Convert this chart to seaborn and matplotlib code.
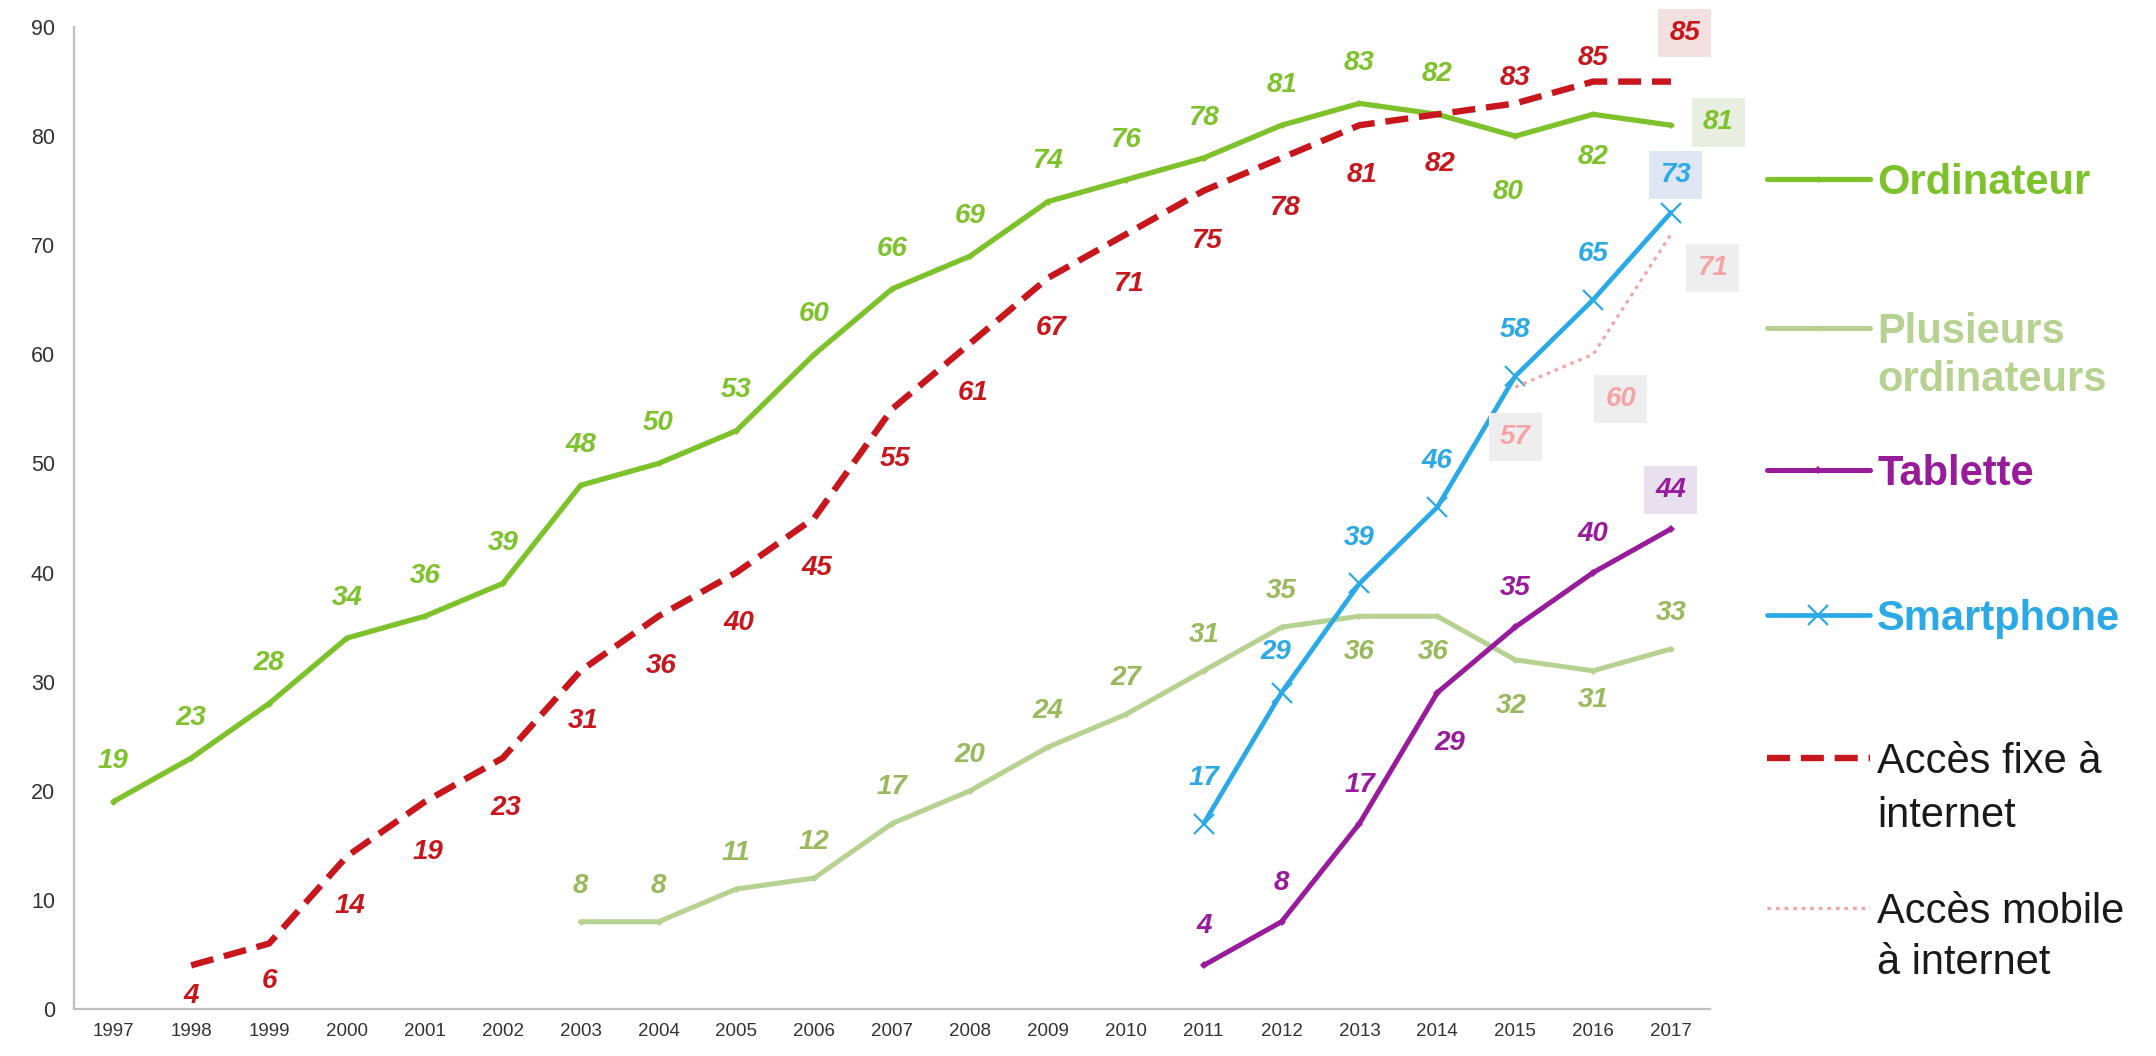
import matplotlib
matplotlib.use("Agg")
import matplotlib.pyplot as plt
from matplotlib import font_manager
import seaborn as sns
import pandas as pd
import numpy as np

# ---------------- data ----------------
years = list(range(1997, 2018))
ordinateur_years = list(range(1997, 2018))
ordinateur = [19, 23, 28, 34, 36, 39, 48, 50, 53, 60, 66, 69, 74, 76, 78, 81, 83, 82, 80, 82, 81]
fixe_years = list(range(1998, 2018))
fixe = [4, 6, 14, 19, 23, 31, 36, 40, 45, 55, 61, 67, 71, 75, 78, 81, 82, 83, 85, 85]
plusieurs_years = list(range(2003, 2018))
plusieurs = [8, 8, 11, 12, 17, 20, 24, 27, 31, 35, 36, 36, 32, 31, 33]
tablette_years = list(range(2011, 2018))
tablette = [4, 8, 17, 29, 35, 40, 44]
smartphone_years = list(range(2011, 2018))
smartphone = [17, 29, 39, 46, 58, 65, 73]
mobile_years = [2015, 2016, 2017]
mobile = [57, 60, 71]
y_ticks = list(range(0, 91, 10))

legend_labels = ["Ordinateur", "Plusieurs\nordinateurs", "Tablette", "Smartphone",
                 "Accès fixe à\ninternet", "Accès mobile\nà internet"]

# ---------------- style ----------------
sns.set_style("white")
avail = {f.name for f in font_manager.fontManager.ttflist}
base_font = "Liberation Sans" if "Liberation Sans" in avail else "DejaVu Sans"
narrow_font = "Liberation Sans Narrow" if "Liberation Sans Narrow" in avail else base_font
plt.rcParams["font.family"] = [base_font, "DejaVu Sans"]

C_ORD = "#7dc12b"
C_PLU = "#b5d290"
C_PLU_T = "#98b95c"
C_TAB = "#981b9c"
C_SMA = "#2aa9e6"
C_FIX = "#c8161d"
C_MOB = "#f5a3a3"
C_AXIS = "#bfbfbf"

fig = plt.figure(figsize=(21.56, 10.56), dpi=100)
ax = fig.add_axes([0.0345, 0.0445, 0.7586, 0.9299])


def df_of(xs, ys):
    return pd.DataFrame({"year": xs, "value": ys})


sns.lineplot(data=df_of(plusieurs_years, plusieurs), x="year", y="value", ax=ax,
             color=C_PLU, linewidth=3.6, marker="D", markersize=3.5, markeredgewidth=0,
             label=legend_labels[1], zorder=2)
sns.lineplot(data=df_of(ordinateur_years, ordinateur), x="year", y="value", ax=ax,
             color=C_ORD, linewidth=3.8, marker="D", markersize=3.5, markeredgewidth=0,
             label=legend_labels[0], zorder=3)
sns.lineplot(data=df_of(fixe_years, fixe), x="year", y="value", ax=ax,
             color=C_FIX, linewidth=4.6, label=legend_labels[4], zorder=4)
line_fixe = ax.lines[-1]
line_fixe.set_dashes((3.6, 1.7))
sns.lineplot(data=df_of(tablette_years, tablette), x="year", y="value", ax=ax,
             color=C_TAB, linewidth=3.6, marker="D", markersize=4.5, markeredgewidth=0,
             label=legend_labels[2], zorder=5)
sns.lineplot(data=df_of(smartphone_years, smartphone), x="year", y="value", ax=ax,
             color=C_SMA, linewidth=3.4, marker="x", markersize=14, markeredgewidth=1.6,
             markeredgecolor=C_SMA, label=legend_labels[3], zorder=6)
sns.lineplot(data=df_of(mobile_years, mobile), x="year", y="value", ax=ax,
             color=C_MOB, linewidth=2.2, label=legend_labels[5], zorder=7)
line_mob = ax.lines[-1]
line_mob.set_dashes((1.2, 1.6))

# ---------------- data labels ----------------
BOX = dict(boxstyle="square,pad=0.4", ec="none")


def label_series(xs, ys, color, default, overrides, boxes):
    for x, y in zip(xs, ys):
        dx, dy = overrides.get(x, default)
        kw = {}
        if x in boxes:
            kw["bbox"] = dict(BOX, fc=boxes[x])
        ax.annotate(str(y), xy=(x, y), xytext=(dx, dy), textcoords="offset points",
                    ha="center", va="center", fontsize=20, fontweight="bold",
                    fontstyle="italic", color=color, zorder=10, **kw)


label_series(ordinateur_years, ordinateur, C_ORD, (0, 29),
             {2015: (-5, -40), 2016: (0, -31), 2017: (34, 2)}, {2017: "#e9efe0"})
label_series(fixe_years, fixe, C_FIX, (2, -36),
             {1998: (0, -22), 1999: (0, -27), 2015: (0, 18), 2016: (0, 17), 2017: (10, 35)},
             {2017: "#f3e0e0"})
label_series(plusieurs_years, plusieurs, C_PLU_T, (0, 26),
             {2013: (0, -26), 2014: (-3, -26), 2015: (-3, -33), 2016: (0, -21)}, {})
label_series(tablette_years, tablette, C_TAB, (0, 28), {2014: (9, -36)}, {2017: "#e8e0ee"})
label_series(smartphone_years, smartphone, C_SMA, (0, 33), {2012: (-4, 29), 2017: (3, 27)},
             {2017: "#dde6f2"})
label_series(mobile_years, mobile, C_MOB, (0, -36),
             {2016: (20, -32), 2017: (30, -24)},
             {2015: "#eeeeee", 2016: "#eeeeee", 2017: "#eeeeee"})

# ---------------- axes ----------------
ax.set_xlim(1996.5, 2017.5)
ax.set_ylim(0, 90)
ax.set_xticks(years)
ax.set_xticklabels([str(y) for y in years], fontsize=13.5, color="#333333", family=narrow_font)
ax.set_xticks(np.arange(1996.5, 2018, 1.0), minor=True)
ax.set_yticks(y_ticks)
ax.set_yticklabels([str(v) for v in y_ticks], fontsize=15.5, color="#333333")
ax.tick_params(axis="x", which="major", length=0, pad=10)
ax.tick_params(axis="x", which="minor", length=7, width=1.3, color=C_AXIS, direction="out")
ax.tick_params(axis="y", which="major", length=6, width=1.3, color=C_AXIS, direction="out", pad=8)
ax.set_xlabel("")
ax.set_ylabel("")
for s in ["top", "right"]:
    ax.spines[s].set_visible(False)
for s in ["left", "bottom"]:
    ax.spines[s].set_color(C_AXIS)
    ax.spines[s].set_linewidth(1.6)
ax.grid(False)

# ---------------- legend (one entry per block, handle on first line) ----------------
handles, labels = ax.get_legend_handles_labels()
hmap = dict(zip(labels, handles))
if ax.get_legend() is not None:
    ax.get_legend().remove()

W, H = 2156.0, 1056.0
LEG_X = 1767.0
FS = 30
FS_PX = FS * 100 / 72.0
HL, HTP = 2.47, 0.17
entries = [
    (legend_labels[0], C_ORD, "bold", 183, 0),
    (legend_labels[1], C_PLU, "bold", 332, 48),
    (legend_labels[2], C_TAB, "bold", 474, 0),
    (legend_labels[3], C_SMA, "bold", 619, 0),
    (legend_labels[4], "#1a1a1a", "normal", 762, 54),
    (legend_labels[5], "#1a1a1a", "normal", 912, 51),
]
text_x = LEG_X + (HL + HTP) * FS_PX
for lab, col, wt, ypx, gap in entries:
    lines = lab.split("\n")
    leg = fig.legend([hmap[lab]], [lines[0]], loc="center left",
                     bbox_to_anchor=(LEG_X / W, 1 - ypx / H), frameon=False,
                     borderpad=0, borderaxespad=0, handlelength=HL, handletextpad=HTP,
                     prop={"size": FS, "weight": wt, "family": base_font})
    for t in leg.get_texts():
        t.set_color(col)
    for i, extra in enumerate(lines[1:], start=1):
        fig.text(text_x / W, 1 - (ypx + gap * i) / H, extra, ha="left", va="center",
                 fontsize=FS, fontweight=wt, color=col, family=base_font)

fig.savefig("out.png", dpi=100)
